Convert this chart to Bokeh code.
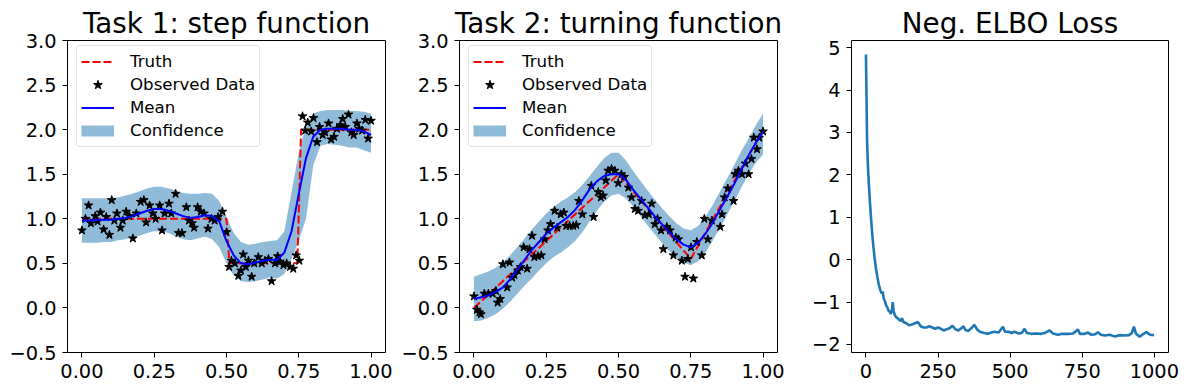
from bokeh.plotting import figure
from bokeh.layouts import row
from bokeh.models import Range1d, FixedTicker, NumeralTickFormatter, Legend, LegendItem
from bokeh.embed import file_html
from bokeh.resources import INLINE

FONT = "DejaVu Sans"
BAND = "#1f77b4"
NAN = float("nan")

# ---------------- data ----------------
grid_x = [0.000, 0.025, 0.050, 0.075, 0.100, 0.125, 0.150, 0.175, 0.200, 0.225,
          0.250, 0.275, 0.300, 0.325, 0.350, 0.375, 0.400, 0.425, 0.450, 0.475,
          0.500, 0.525, 0.550, 0.575, 0.600, 0.625, 0.650, 0.675, 0.700, 0.725,
          0.750, 0.775, 0.800, 0.825, 0.850, 0.875, 0.900, 0.925, 0.950, 0.975, 1.000]

# Task 1: step function
mean1 = [0.98, 0.98, 0.985, 0.99, 0.99, 1.00, 1.01, 1.03, 1.06, 1.09,
         1.11, 1.11, 1.09, 1.06, 1.03, 1.01, 1.02, 1.04, 1.03, 0.97,
         0.75, 0.59, 0.50, 0.49, 0.51, 0.53, 0.54, 0.54, 0.62, 0.86,
         1.28, 1.68, 1.92, 2.00, 2.01, 2.01, 2.01, 2.00, 2.00, 1.98, 1.94]
upper1 = [1.23, 1.23, 1.23, 1.23, 1.23, 1.24, 1.26, 1.28, 1.31, 1.34,
          1.36, 1.36, 1.34, 1.32, 1.29, 1.28, 1.28, 1.29, 1.28, 1.20,
          1.02, 0.84, 0.74, 0.71, 0.72, 0.74, 0.75, 0.76, 0.86, 1.30,
          1.74, 2.05, 2.18, 2.21, 2.22, 2.22, 2.22, 2.21, 2.21, 2.20, 2.18]
lower1 = [0.73, 0.73, 0.73, 0.74, 0.74, 0.76, 0.77, 0.79, 0.81, 0.84,
          0.86, 0.86, 0.84, 0.80, 0.77, 0.76, 0.78, 0.80, 0.77, 0.68,
          0.50, 0.36, 0.30, 0.29, 0.30, 0.32, 0.34, 0.33, 0.38, 0.55,
          0.75, 1.00, 1.60, 1.82, 1.84, 1.83, 1.82, 1.80, 1.80, 1.77, 1.74]
truth1_x = [0.0, 0.5, 0.51, 0.745, 0.758, 1.0]
truth1_y = [1.0, 1.0, 0.5, 0.5, 2.0, 2.0]
obs1_x = [0.000, 0.012, 0.023, 0.031, 0.046, 0.054, 0.064, 0.075, 0.084, 0.095,
          0.103, 0.112, 0.121, 0.133, 0.141, 0.153, 0.164, 0.176, 0.188, 0.203,
          0.214, 0.222, 0.234, 0.245, 0.255, 0.269, 0.277, 0.286, 0.301, 0.309,
          0.324, 0.334, 0.346, 0.361, 0.370, 0.381, 0.388, 0.400, 0.411, 0.422,
          0.436, 0.448, 0.459, 0.471, 0.486, 0.500, 0.509, 0.517, 0.529, 0.541,
          0.550, 0.558, 0.567, 0.576, 0.587, 0.596, 0.610, 0.622, 0.633, 0.645,
          0.656, 0.668, 0.677, 0.685, 0.697, 0.708, 0.720, 0.731, 0.741, 0.752,
          0.763, 0.772, 0.781, 0.793, 0.801, 0.813, 0.822, 0.833, 0.841, 0.853,
          0.862, 0.872, 0.882, 0.894, 0.902, 0.911, 0.922, 0.932, 0.940, 0.951,
          0.959, 0.969, 0.980, 0.990, 1.000]
obs1_y = [0.87, 1.00, 1.15, 0.95, 1.03, 0.97, 1.07, 0.88, 1.02, 0.82,
          1.21, 0.98, 1.06, 0.90, 0.98, 1.08, 1.03, 0.78, 1.06, 1.19,
          1.21, 0.96, 1.15, 1.06, 1.00, 1.15, 0.87, 1.06, 1.17, 1.06,
          1.28, 0.84, 0.84, 1.13, 0.98, 0.95, 0.90, 1.13, 1.08, 1.06,
          0.89, 1.00, 0.98, 1.02, 1.08, 0.85, 0.46, 0.53, 0.50, 0.36,
          0.42, 0.60, 0.46, 0.53, 0.35, 0.50, 0.57, 0.50, 0.53, 0.55,
          0.30, 0.50, 0.58, 0.52, 0.48, 0.50, 0.46, 0.44, 0.59, 0.53,
          2.15, 1.99, 2.08, 1.98, 2.13, 1.86, 2.03, 1.94, 1.97, 2.07,
          1.89, 1.92, 2.01, 2.05, 2.12, 2.03, 2.17, 1.97, 1.94, 2.07,
          2.01, 1.99, 2.11, 1.90, 2.10]

# Task 2: turning function
mean2 = [0.10, 0.12, 0.14, 0.18, 0.23, 0.32, 0.43, 0.54, 0.65, 0.74,
         0.83, 0.90, 0.96, 1.02, 1.10, 1.21, 1.33, 1.42, 1.48, 1.50,
         1.50, 1.44, 1.33, 1.23, 1.13, 1.03, 0.94, 0.85, 0.77, 0.71,
         0.68, 0.73, 0.83, 0.95, 1.10, 1.24, 1.39, 1.55, 1.71, 1.85, 1.98]
upper2 = [0.35, 0.38, 0.41, 0.45, 0.51, 0.59, 0.68, 0.78, 0.88, 0.97,
          1.06, 1.13, 1.19, 1.24, 1.30, 1.38, 1.48, 1.58, 1.68, 1.74,
          1.74, 1.66, 1.54, 1.43, 1.32, 1.22, 1.12, 1.03, 0.95, 0.89,
          0.87, 0.92, 1.02, 1.15, 1.30, 1.45, 1.60, 1.76, 1.90, 2.05, 2.18]
lower2 = [-0.15, -0.14, -0.11, -0.07, -0.01, 0.07, 0.16, 0.25, 0.33, 0.42,
          0.50, 0.57, 0.62, 0.68, 0.75, 0.85, 0.97, 1.09, 1.19, 1.26,
          1.28, 1.23, 1.14, 1.03, 0.93, 0.83, 0.73, 0.64, 0.57, 0.51,
          0.48, 0.52, 0.62, 0.75, 0.89, 1.04, 1.19, 1.35, 1.50, 1.63, 1.72]
truth2_x = [0.0, 0.5, 0.75, 1.0]
truth2_y = [0.0, 1.5, 0.55, 2.0]
obs2_x = [0.000, 0.010, 0.019, 0.024, 0.036, 0.050, 0.065, 0.076, 0.082, 0.091,
          0.100, 0.115, 0.123, 0.132, 0.140, 0.152, 0.161, 0.172, 0.184, 0.192,
          0.201, 0.209, 0.221, 0.233, 0.244, 0.256, 0.265, 0.279, 0.288, 0.300,
          0.311, 0.319, 0.331, 0.343, 0.354, 0.363, 0.375, 0.406, 0.414, 0.430,
          0.439, 0.447, 0.456, 0.464, 0.476, 0.487, 0.499, 0.510, 0.520, 0.534,
          0.545, 0.557, 0.568, 0.580, 0.591, 0.605, 0.615, 0.626, 0.635, 0.647,
          0.655, 0.667, 0.678, 0.690, 0.698, 0.707, 0.719, 0.730, 0.740, 0.751,
          0.759, 0.771, 0.788, 0.797, 0.809, 0.823, 0.852, 0.858, 0.867, 0.878,
          0.898, 0.904, 0.915, 0.927, 0.939, 0.950, 0.960, 0.968, 0.979, 0.987,
          1.000]
obs2_y = [0.13, -0.02, -0.05, -0.07, 0.16, 0.16, 0.16, 0.19, 0.06, 0.10,
          0.49, 0.23, 0.51, 0.34, 0.37, 0.42, 0.46, 0.68, 0.44, 0.66,
          0.81, 0.57, 0.58, 0.59, 0.77, 0.87, 0.94, 1.09, 0.90, 1.05,
          1.07, 0.92, 0.92, 0.92, 0.93, 1.20, 1.05, 1.37, 1.02, 1.30,
          1.24, 1.26, 1.43, 1.54, 1.56, 1.54, 1.40, 1.50, 1.47, 1.35,
          1.24, 1.11, 1.09, 1.20, 1.04, 1.05, 1.17, 0.94, 1.00, 0.87,
          0.66, 0.91, 0.87, 0.59, 0.79, 0.77, 0.53, 0.35, 0.55, 0.68,
          0.33, 0.74, 0.59, 1.00, 0.77, 0.98, 0.91, 1.05, 1.24, 1.34,
          1.20, 1.50, 1.54, 1.50, 1.62, 1.50, 1.67, 1.91, 1.78, 1.91,
          1.98]

# Neg. ELBO loss
loss_iter = [0, 2, 4, 7, 10, 14, 18, 22, 26, 30, 35, 40, 45, 50, 55, 58, 62, 66, 70, 74,
             78, 82, 86, 90, 93, 96, 100, 105, 110, 115, 120, 125, 130, 140, 150, 160,
             170, 180, 190, 200, 210, 220, 230, 240, 250, 260, 270, 280, 290, 300, 310,
             320, 330, 338, 345, 355, 365, 376, 385, 395, 410, 422, 435, 446, 460, 475,
             482, 495, 505, 515, 528, 540, 550, 558, 573, 590, 608, 620, 637, 648, 666,
             680, 700, 718, 735, 742, 758, 770, 781, 795, 804, 815, 828, 845, 862, 880,
             897, 912, 922, 929, 936, 949, 960, 972, 985, 999]
loss_val = [4.84, 3.90, 2.80, 2.20, 1.80, 1.35, 0.95, 0.60, 0.30, 0.05, -0.22, -0.42, -0.60,
            -0.72, -0.80, -0.75, -0.92, -0.98, -1.08, -1.12, -1.20, -1.22, -1.28, -1.20,
            -1.00, -1.22, -1.30, -1.36, -1.38, -1.42, -1.45, -1.38, -1.47, -1.50, -1.55,
            -1.53, -1.50, -1.47, -1.57, -1.60, -1.60, -1.57, -1.60, -1.63, -1.60, -1.63,
            -1.67, -1.64, -1.62, -1.56, -1.64, -1.67, -1.62, -1.57, -1.66, -1.68, -1.62,
            -1.54, -1.64, -1.70, -1.73, -1.75, -1.72, -1.70, -1.72, -1.58, -1.70, -1.70,
            -1.73, -1.70, -1.74, -1.73, -1.63, -1.73, -1.75, -1.74, -1.75, -1.73, -1.67,
            -1.74, -1.77, -1.75, -1.75, -1.74, -1.65, -1.75, -1.75, -1.72, -1.77, -1.76,
            -1.71, -1.77, -1.79, -1.77, -1.81, -1.78, -1.79, -1.78, -1.73, -1.58, -1.74,
            -1.82, -1.76, -1.71, -1.77, -1.78]

unit_ticks = [0.0, 0.25, 0.5, 0.75, 1.0]
y_ticks = [-0.5, 0.0, 0.5, 1.0, 1.5, 2.0, 2.5, 3.0]
loss_xticks = [0, 250, 500, 750, 1000]
loss_yticks = [-2, -1, 0, 1, 2, 3, 4, 5]

H = 391


def base_fig(title, width, left_border, right_border, xr, yr):
    p = figure(width=width, height=H, x_range=xr, y_range=yr,
               output_backend="svg", toolbar_location=None, tools="",
               min_border_left=left_border, min_border_right=right_border,
               min_border_top=40, min_border_bottom=39)
    p.title.text = title
    p.title.text_font = FONT
    p.title.text_font_size = "27.8px"
    p.title.text_font_style = "normal"
    p.title.text_color = "black"
    p.title.align = "center"
    p.title.standoff = 2
    p.xgrid.visible = False
    p.ygrid.visible = False
    p.outline_line_color = "black"
    p.outline_line_alpha = 1.0
    p.outline_line_width = 1
    p.background_fill_color = "white"
    p.border_fill_color = "white"
    for ax in (p.xaxis[0], p.yaxis[0]):
        ax.axis_line_color = None
        ax.major_tick_in = 0
        ax.major_tick_out = 5
        ax.minor_tick_in = 0
        ax.minor_tick_out = 0
        ax.major_tick_line_color = "black"
        ax.major_label_text_font = FONT
        ax.major_label_text_font_size = "19.4px"
        ax.major_label_text_color = "black"
    p.xaxis[0].major_label_standoff = 6
    p.yaxis[0].major_label_standoff = 6
    return p


def gp_panel(title, width, left_border, right_border, mean, upper, lower, tx, ty, ox, oy):
    p = base_fig(title, width, left_border, right_border,
                 Range1d(-0.05, 1.05), Range1d(-0.5, 3.0))
    p.xaxis[0].ticker = FixedTicker(ticks=unit_ticks)
    p.xaxis[0].formatter = NumeralTickFormatter(format="0.00")
    p.yaxis[0].ticker = FixedTicker(ticks=y_ticks)
    p.yaxis[0].formatter = NumeralTickFormatter(format="0.0")
    p.yaxis[0].major_label_overrides = {-0.5: "\u22120.5"}

    p.varea(x=grid_x, y1=lower, y2=upper, fill_color=BAND, fill_alpha=0.5)
    r_truth = p.line(tx, ty, line_color="red", line_width=2, line_dash="8 3")
    r_obs = p.scatter(ox, oy, marker="star", size=9, fill_color="black",
                      line_color="black", line_width=1)
    r_mean = p.line(grid_x, mean, line_color="blue", line_width=2)
    # legend swatch for the confidence band: a thick stroke with no visible data
    r_band_key = p.line(x=[NAN, NAN], y=[NAN, NAN], line_color=BAND, line_alpha=0.5,
                        line_width=11, line_cap="butt")

    legend = Legend(items=[LegendItem(label="Truth", renderers=[r_truth]),
                           LegendItem(label="Observed Data", renderers=[r_obs]),
                           LegendItem(label="Mean", renderers=[r_mean]),
                           LegendItem(label="Confidence", renderers=[r_band_key])],
                    location=(9, 205))
    legend.margin = 0
    legend.padding = 4
    legend.spacing = 0
    legend.glyph_width = 33
    legend.glyph_height = 23
    legend.label_height = 20
    legend.label_standoff = 16
    legend.label_text_font = FONT
    legend.label_text_font_size = "16.67px"
    legend.label_text_color = "black"
    legend.border_line_color = "#cccccc"
    legend.border_line_width = 1
    legend.background_fill_color = "white"
    legend.background_fill_alpha = 0.8
    if "border_radius" in Legend.properties():
        legend.border_radius = 4
    p.add_layout(legend)
    return p


p1 = gp_panel("Task 1: step function", 392, 67, 7, mean1, upper1, lower1,
              truth1_x, truth1_y, obs1_x, obs1_y)
p2 = gp_panel("Task 2: turning function", 400, 67, 15, mean2, upper2, lower2,
              truth2_x, truth2_y, obs2_x, obs2_y)

p3 = base_fig("Neg. ELBO Loss", 396, 59, 20, Range1d(-50, 1049), Range1d(-2.19, 5.17))
p3.xaxis[0].ticker = FixedTicker(ticks=loss_xticks)
p3.yaxis[0].ticker = FixedTicker(ticks=loss_yticks)
p3.yaxis[0].major_label_overrides = {-2: "\u22122", -1: "\u22121"}
p3.line(loss_iter, loss_val, line_color=BAND, line_width=2.6)

layout = row(p1, p2, p3)

open("out.html", "w").write(file_html(layout, INLINE))
